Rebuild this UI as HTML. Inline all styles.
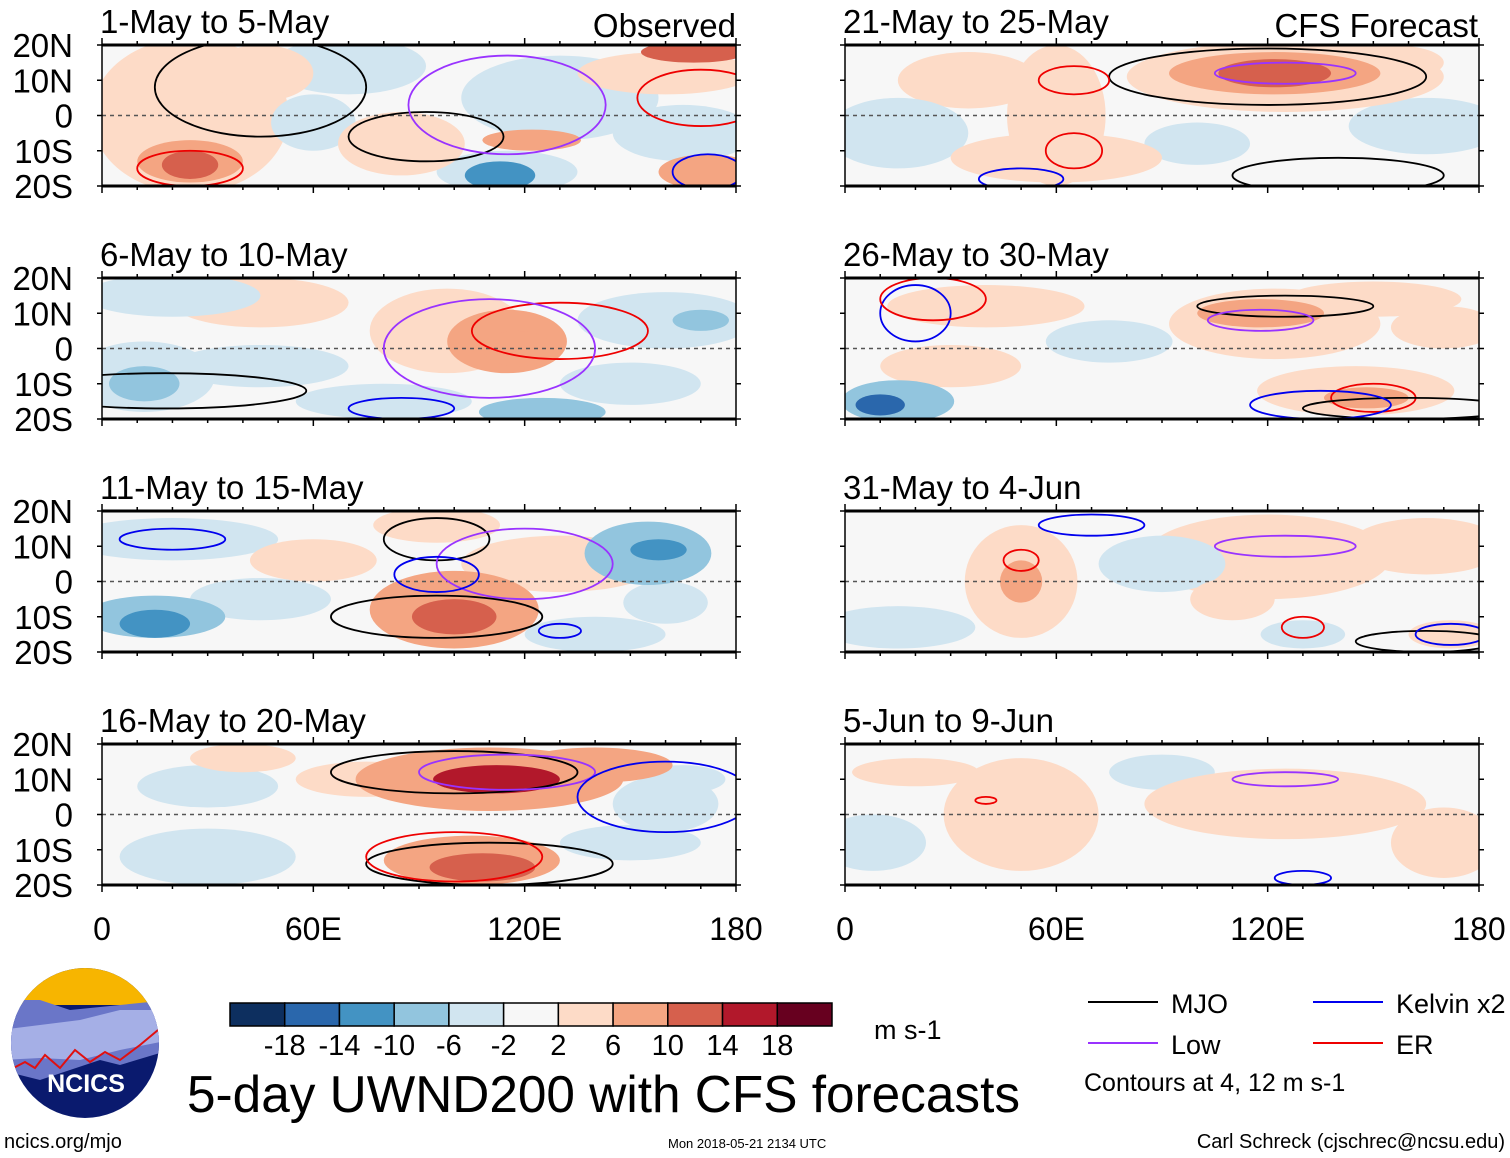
<!DOCTYPE html>
<html><head><meta charset="utf-8"><style>
body{margin:0;background:#fff;width:1510px;height:1158px;overflow:hidden;font-family:"Liberation Sans",sans-serif}
svg{display:block}
text{font-family:"Liberation Sans",sans-serif;fill:#000}
</style></head><body>
<svg id="c" width="1510" height="1158"></svg>
<script>
const levels=[-18,-14,-10,-6,-2,2,6,10,14,18];
const colors=["#0d2f5f","#2a67ac","#4393c3","#92c5de","#d1e5f0","#f7f7f7","#fddbc7","#f4a582","#d6604d","#b2182b","#67001f"];
const panelTitles=["1-May to 5-May","6-May to 10-May","11-May to 15-May","16-May to 20-May","21-May to 25-May","26-May to 30-May","31-May to 4-Jun","5-Jun to 9-Jun"];
const latTicks=[20,10,0,-10,-20];
const latLabels=["20N","10N","0","10S","20S"];
const lonTicks=[0,60,120,180];
const lonLabels=["0","60E","120E","180"];
// blobs: [lon, lat, lonRadius, latRadius, value]
const blobs1=[[25,0,28,22,3],[45,12,15,8,4],[25,-13,15,6,8],[25,-14,8,4,14],[70,14,22,8,-3],[130,5,28,12,-3],[85,-8,18,9,5],[122,-7,14,3,7],[160,12,25,6,3],[172,-16,14,5,8],[168,18,15,3,12],[115,-16,20,6,-4],[113,-17,10,4,-10],[165,-5,20,8,-3],[60,-2,12,8,-3]];
const blobs2=[[20,15,25,6,-4],[12,-8,20,10,-4],[12,-10,10,5,-7],[45,13,25,7,3],[98,5,22,12,3],[115,2,17,9,7],[118,0,10,5,10],[160,8,25,8,-4],[170,8,8,3,-8],[125,-18,18,4,-6],[45,-5,25,6,-2],[80,-15,25,5,-3],[150,-10,20,6,-3]];
const blobs3=[[100,-8,24,11,7],[100,-10,12,5,14],[15,-10,20,6,-6],[15,-12,10,4,-10],[20,12,30,6,-3],[155,8,18,9,-6],[158,9,8,3,-10],[130,5,28,8,3],[60,6,18,6,3],[95,16,18,5,4],[160,-6,12,6,-4],[45,-5,20,6,-3],[140,-15,20,5,-3]];
const blobs4=[[110,10,38,9,8],[112,10,18,4,16],[105,-13,25,7,8],[108,-15,15,4,14],[140,14,22,5,9],[30,-12,25,8,-3],[30,8,20,6,-3],[160,3,15,8,-4],[165,10,12,4,-5],[75,10,20,5,3],[150,-8,20,5,-3],[40,16,15,4,3]];
const blobs5=[[125,11,45,10,6],[122,12,30,6,10],[122,12,16,4,14],[60,0,14,20,4],[60,-12,30,7,5],[35,10,20,8,3],[15,-5,20,10,-3],[165,-3,22,8,-3],[155,15,15,5,3],[100,-8,15,6,-2]];
const blobs6=[[122,7,30,10,4],[118,10,18,4,10],[15,-15,16,6,-8],[10,-16,7,3,-14],[40,12,28,6,3],[145,-12,28,7,4],[148,-14,12,3,10],[75,2,18,6,-3],[170,6,15,6,4],[30,-5,20,6,3],[150,14,25,5,5]];
const blobs7=[[50,0,16,16,4],[50,0,6,6,7],[120,7,35,12,3],[110,-5,12,6,4],[172,-15,12,4,5],[15,-13,22,6,-3],[90,5,18,8,-3],[165,10,22,8,3],[130,-15,12,4,-2]];
const blobs8=[[50,0,22,16,3],[20,12,18,4,3],[125,3,40,10,3],[170,-8,15,10,3],[8,-8,15,8,-3],[90,12,15,5,-2]];
const allBlobs=[blobs1,blobs2,blobs3,blobs4,blobs5,blobs6,blobs7,blobs8];
// contour ellipses: [lon, lat, lonRadius, latRadius, type]
const contours=[
 [[25,-15,15,5,"er"],[45,8,30,14,"mjo"],[92,-6,22,7,"mjo"],[115,3,28,14,"low"],[170,5,18,8,"er"],[172,-16,10,5,"kelvin"]],
 [[18,-12,40,5,"mjo"],[85,-17,15,3,"kelvin"],[130,5,25,8,"er"],[110,0,30,14,"low"]],
 [[20,12,15,3,"kelvin"],[95,12,15,6,"mjo"],[120,5,25,10,"low"],[95,2,12,5,"kelvin"],[95,-10,30,6,"mjo"],[130,-14,6,2,"kelvin"]],
 [[100,12,35,6,"mjo"],[110,-14,35,6,"mjo"],[100,-12,25,7,"er"],[115,12,25,5,"low"],[160,5,25,10,"kelvin"]],
 [[120,11,45,8,"mjo"],[125,12,20,3,"low"],[65,10,10,4,"er"],[65,-10,8,5,"er"],[140,-17,30,5,"mjo"],[50,-18,12,3,"kelvin"]],
 [[20,10,10,8,"kelvin"],[25,14,15,6,"er"],[125,12,25,3,"mjo"],[118,8,15,3,"low"],[150,-14,12,4,"er"],[160,-17,30,3,"mjo"],[135,-16,20,4,"kelvin"]],
 [[70,16,15,3,"kelvin"],[50,6,5,3,"er"],[125,10,20,3,"low"],[130,-13,6,3,"er"],[165,-17,20,3,"mjo"],[172,-15,10,3,"kelvin"]],
 [[125,10,15,2,"low"],[40,4,3,1,"er"],[130,-18,8,2,"kelvin"]]
];
const cCol={mjo:"#000",low:"#9933ff",kelvin:"#0000ee",er:"#ee0000"};
const NS="http://www.w3.org/2000/svg";
const svg=document.getElementById("c");
function mk(tag,attrs,parent){const e=document.createElementNS(NS,tag);for(const k in attrs)e.setAttribute(k,attrs[k]);(parent||svg).appendChild(e);return e;}
function colorFor(v){let i=0;while(i<levels.length&&v>levels[i])i++;return colors[i];}
const defs=mk("defs",{});
const PW=634,PH=141;
const rowY=[45,278,511,744];
const colX=[102,845];
for(let p=0;p<8;p++){
  const x0=colX[p<4?0:1],y0=rowY[p%4];
  const xs=lon=>x0+lon/180*PW;
  const ys=lat=>y0+(20-lat)/40*PH;
  const g=mk("g",{});
  
  
  const cp=mk("clipPath",{id:"cp"+p},defs);
  mk("rect",{x:x0,y:y0,width:PW,height:PH},cp);
  mk("rect",{x:x0,y:y0,width:PW,height:PH,fill:"#f7f7f7"},g);
  const inner=mk("g",{"clip-path":"url(#cp"+p+")"},g);
  const sorted=allBlobs[p].slice().sort((a,b)=>Math.abs(a[4])-Math.abs(b[4]));
  for(const b of sorted){
    const e=mk("ellipse",{cx:xs(b[0]),cy:ys(b[1]),rx:b[2]/180*PW,ry:b[3]/40*PH,fill:colorFor(b[4])},inner);
    
    
  }
  mk("line",{x1:x0,x2:x0+PW,y1:ys(0),y2:ys(0),stroke:"#555","stroke-dasharray":"4,4","stroke-width":1.5},inner);
  for(const c of contours[p]){
    const e=mk("ellipse",{cx:xs(c[0]),cy:ys(c[1]),rx:c[2]/180*PW,ry:c[3]/40*PH,fill:"none",stroke:cCol[c[4]],"stroke-width":1.8},inner);
    
    
  }
  mk("rect",{x:x0,y:y0,width:PW,height:PH,fill:"none",stroke:"#000","stroke-width":1.5},g);
  mk("line",{x1:x0,x2:x0+PW,y1:y0,y2:y0,stroke:"#000","stroke-width":3},g);
  mk("line",{x1:x0,x2:x0+PW,y1:y0+PH,y2:y0+PH,stroke:"#000","stroke-width":3},g);
  for(let l=0;l<=180;l+=10){
    const len=(l%60==0)?7:4;
    mk("line",{x1:xs(l),x2:xs(l),y1:y0+PH,y2:y0+PH+len,stroke:"#000","stroke-width":1.5},g);
    mk("line",{x1:xs(l),x2:xs(l),y1:y0,y2:y0-len,stroke:"#000","stroke-width":1.5},g);
  }
  latTicks.forEach((t,i)=>{
    mk("line",{x1:x0-5,x2:x0,y1:ys(t),y2:ys(t),stroke:"#000","stroke-width":1.5},g);
    mk("line",{x1:x0+PW,x2:x0+PW+5,y1:ys(t),y2:ys(t),stroke:"#000","stroke-width":1.5},g);
    if(p<4){const tl=mk("text",{x:73,y:ys(t)+12,"font-size":33,"text-anchor":"end"},g);tl.textContent=latLabels[i];
      }
  });
  const t=mk("text",{x:x0-2,y:y0-12,"font-size":33},g);t.textContent=panelTitles[p];
  
  if(p%4==3){lonTicks.forEach((l,i)=>{const tl=mk("text",{x:xs(l),y:940,"font-size":32,"text-anchor":"middle"},g);tl.textContent=lonLabels[i];
    });}
}
let tt=mk("text",{x:736,y:37,"font-size":33,"text-anchor":"end"});tt.textContent="Observed";

tt=mk("text",{x:1478,y:37,"font-size":33,"text-anchor":"end"});tt.textContent="CFS Forecast";

// colorbar
const cb=mk("g",{});

const bw=602/11;
colors.forEach((c,i)=>mk("rect",{x:230+i*bw,y:1003,width:bw,height:23,fill:c,stroke:"#000","stroke-width":1.5},cb));
levels.forEach((l,i)=>{const e=mk("text",{x:230+(i+1)*bw,y:1055,"font-size":29,"text-anchor":"middle"},cb);e.textContent=l;});
tt=mk("text",{x:874,y:1039,"font-size":27});tt.textContent="m s-1";

tt=mk("text",{x:187,y:1112,"font-size":52,textLength:833,lengthAdjust:"spacingAndGlyphs"});tt.textContent="5-day UWND200 with CFS forecasts";

// legend
const lg=mk("g",{});

[["MJO","#000",1088,1002],["Low","#9933ff",1088,1043],["Kelvin x2","#0000ee",1313,1002],["ER","#ee0000",1313,1043]].forEach(d=>{
  mk("line",{x1:d[2],x2:d[2]+70,y1:d[3],y2:d[3],stroke:d[1],"stroke-width":2},lg);
  const e=mk("text",{x:d[2]+83,y:d[3]+11,"font-size":27},lg);e.textContent=d[0];
});
tt=mk("text",{x:1084,y:1091,"font-size":25},lg);tt.textContent="Contours at 4, 12 m s-1";
tt=mk("text",{x:4,y:1148,"font-size":20});tt.textContent="ncics.org/mjo";

tt=mk("text",{x:668,y:1148,"font-size":13});tt.textContent="Mon 2018-05-21 2134 UTC";

tt=mk("text",{x:1505,y:1148,"font-size":20,"text-anchor":"end"});tt.textContent="Carl Schreck (cjschrec@ncsu.edu)";

// logo
const lo=mk("g",{});

const lcp=mk("clipPath",{id:"lcp"},defs);mk("ellipse",{cx:85,cy:1043,rx:74,ry:75},lcp);
const li=mk("g",{"clip-path":"url(#lcp)"},lo);
mk("rect",{x:0,y:960,width:170,height:170,fill:"#0a1a6e"},li);
mk("rect",{x:0,y:960,width:170,height:45,fill:"#f7b500"},li);
mk("path",{d:"M0 1000 L40 1000 L70 1010 L120 1005 L170 1000 L170 1050 L120 1065 L100 1060 L70 1070 L40 1080 L0 1070 Z",fill:"#6a76c8"},li);
mk("path",{d:"M0 1030 L40 1025 L80 1020 L120 1010 L170 1010 L170 1040 L120 1050 L80 1060 L40 1058 L0 1060 Z",fill:"#a5afe6"},li);
mk("path",{d:"M0 1075 L25 1062 L35 1068 L45 1055 L60 1068 L75 1050 L90 1062 L105 1052 L120 1060 L140 1045 L158 1030",fill:"none",stroke:"#e01010","stroke-width":2},li);
tt=mk("text",{x:86,y:1092,"font-size":25,"font-weight":"bold","text-anchor":"middle",fill:"#fff"},lo);tt.textContent="NCICS";
tt.style.fill="#fff";
</script>
</body></html>
